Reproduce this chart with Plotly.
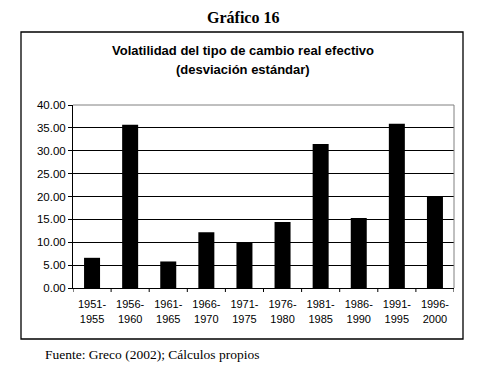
import plotly.graph_objects as go

periods = ["1951-<br>1955", "1956-<br>1960", "1961-<br>1965", "1966-<br>1970", "1971-<br>1975",
           "1976-<br>1980", "1981-<br>1985", "1986-<br>1990", "1991-<br>1995", "1996-<br>2000"]
volatility = [6.6, 35.7, 5.8, 12.2, 9.9, 14.4, 31.5, 15.3, 35.9, 20.0]
y_ticks = [0, 5, 10, 15, 20, 25, 30, 35, 40]
y_tick_labels = ["%.2f" % v for v in y_ticks]

W, H = 487, 385
L, R, T, B = 73, 454, 105, 288

def px(x):
    return (x - L) / (R - L)

def py(y):
    return (B - y) / (B - T)

fig = go.Figure(go.Bar(x=list(range(len(periods))), y=volatility, marker=dict(color="black", line=dict(width=0)),
                       width=0.42))

fig.update_layout(
    width=W, height=H,
    margin=dict(l=L, r=W - R, t=T, b=H - B, pad=0),
    paper_bgcolor="white", plot_bgcolor="white",
    showlegend=False,
    font=dict(family="Liberation Sans, Arial", size=11, color="black"),
    xaxis=dict(range=[-0.5, len(periods) - 0.5], tickmode="array",
               tickvals=list(range(len(periods))), ticktext=periods,
               showgrid=False, showline=True, linecolor="black", linewidth=1,
               ticks="outside", ticklen=6, tickcolor="rgba(0,0,0,0)", zeroline=False,
               tickfont=dict(size=11)),
    yaxis=dict(range=[0, 40], tickmode="array", tickvals=y_ticks, ticktext=y_tick_labels,
               showgrid=True, gridcolor="black", gridwidth=1,
               showline=True, linecolor="black", linewidth=1,
               ticks="outside", ticklen=4, tickcolor="black", zeroline=False,
               tickfont=dict(size=11.5)),
)

shapes = []
for i in range(len(periods) + 1):
    shapes.append(dict(type="line", xref="x", yref="paper", x0=i - 0.5, x1=i - 0.5,
                       y0=0, y1=-4 / (B - T), line=dict(color="black", width=1)))
shapes.append(dict(type="line", xref="paper", yref="paper", x0=0, x1=1, y0=1, y1=1,
                   line=dict(color="#808080", width=1)))
shapes.append(dict(type="line", xref="paper", yref="paper", x0=1, x1=1, y0=0, y1=1,
                   line=dict(color="#808080", width=1)))
shapes.append(dict(type="rect", xref="paper", yref="paper", x0=px(21), x1=px(463),
                   y0=py(339), y1=py(32), line=dict(color="black", width=1.3)))
fig.update_layout(shapes=shapes)

fig.add_annotation(text="<b>Gráfico 16</b>", xref="paper", yref="paper", x=px(243), y=py(18),
                   xanchor="center", yanchor="middle", showarrow=False,
                   font=dict(family="Liberation Serif, Times New Roman", size=16))
fig.add_annotation(text="<b>Volatilidad del tipo de cambio real efectivo</b>", xref="paper", yref="paper",
                   x=px(243), y=py(51), xanchor="center", yanchor="middle", showarrow=False,
                   font=dict(family="Liberation Sans, Arial", size=13))
fig.add_annotation(text="<b>(desviación estándar)</b>", xref="paper", yref="paper",
                   x=px(243), y=py(69), xanchor="center", yanchor="middle", showarrow=False,
                   font=dict(family="Liberation Sans, Arial", size=13))
fig.add_annotation(text="Fuente: Greco (2002); Cálculos propios", xref="paper", yref="paper",
                   x=px(43), y=py(354), xanchor="left", yanchor="middle", showarrow=False,
                   font=dict(family="Liberation Serif, Times New Roman", size=13.5))

fig.write_html("out.html", post_script="document.body.style.margin='0';",
               config={"displayModeBar": False})
